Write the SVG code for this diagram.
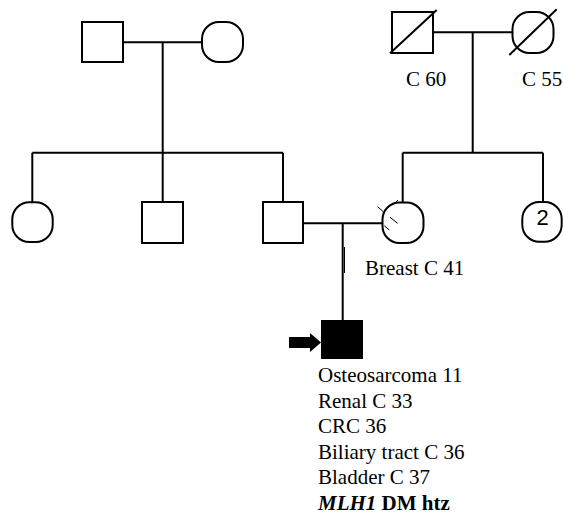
<svg xmlns="http://www.w3.org/2000/svg" width="563" height="517" viewBox="0 0 563 517">
<style>
.s{fill:#fff;stroke:#000;stroke-width:2}
.c{fill:#fff;stroke:#000;stroke-width:2}
.p{fill:#000;stroke:#000;stroke-width:2}
.l{fill:none;stroke:#000;stroke-width:2}
.t{stroke:#000;stroke-width:1;fill:none}
text{font-family:"Liberation Serif","Times New Roman",serif;font-size:21px;fill:#000}
.n{font-family:"Liberation Sans",Arial,sans-serif;font-size:22px}
</style>
<rect width="563" height="517" fill="#fff"/>
<g id="connectors">
<path class="l" d="M123,42.3H202M162.7,42.3V152.7M32.3,152.7H283M32.3,152.7V202M162.7,152.7V202M283,152.7V202"/>
<path class="l" d="M433,32.3H512M472.7,32.3V152.7M402.7,152.7H543M402.7,152.7V202M543,152.7V202"/>
<path class="l" d="M303,223.3H382M342.7,223.3V321"/>
<path class="t" d="M344.5,247V273M394,204L398,200"/>
</g>
<g id="gf1"><rect class="s" x="82" y="22" width="41" height="40"/></g>
<g id="gm1"><rect class="c" x="202" y="22" width="41" height="40" rx="17"/></g>
<g id="gf2"><rect class="s" x="392" y="12" width="41" height="41"/><path class="l" d="M390,53.3L436.7,10"/><text x="406" y="86">C 60</text></g>
<g id="gm2"><rect class="c" x="512.5" y="12" width="41" height="41" rx="17"/><path class="l" d="M509.3,55L556.7,9.3"/><text x="522" y="86">C 55</text></g>
<g id="aunt"><rect class="c" x="12.3" y="202.3" width="40.4" height="39.7" rx="17"/></g>
<g id="uncle"><rect class="s" x="142" y="202" width="41" height="41"/></g>
<g id="father"><rect class="s" x="263" y="202" width="40" height="41"/></g>
<g id="mother"><rect class="c" x="382.5" y="202.5" width="41" height="40.5" rx="17"/>
<path class="t" d="M377.7,206.7L383.3,211.7M390,217.3L397.7,223.3M384.3,225.7L389.3,230"/>
<text x="365" y="275">Breast C 41</text></g>
<g id="sisters"><rect class="c" x="522.3" y="202" width="39.4" height="39.7" rx="17"/><text class="n" x="542.5" y="225" text-anchor="middle">2</text></g>
<g id="proband"><rect class="p" x="322" y="321" width="40" height="37"/>
<path d="M289,337H310V333L321,342.5L310,352V348H289Z" fill="#000"/>
<text x="318" y="382">Osteosarcoma 11</text>
<text x="318" y="407.5">Renal C 33</text>
<text x="318" y="433">CRC 36</text>
<text x="318" y="458.5">Biliary tract C 36</text>
<text x="318" y="484">Bladder C 37</text>
<text x="318" y="509.5" font-weight="bold"><tspan font-style="italic">MLH1</tspan> DM htz</text>
</g>
</svg>
